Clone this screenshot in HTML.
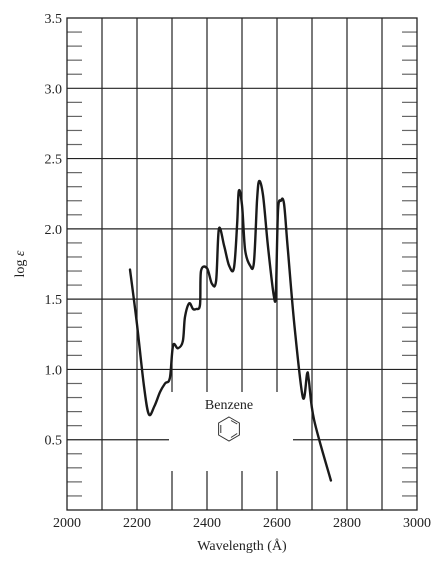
<!DOCTYPE html>
<html><head><meta charset="utf-8"><style>
body{margin:0;background:#fff;}
svg text{font-family:"Liberation Serif",serif;fill:#222;}
</style></head><body>
<svg width="446" height="567" viewBox="0 0 446 567" xmlns="http://www.w3.org/2000/svg">
<g id="grid"></g>
<g id="ticks"></g>
<rect x="67" y="18" width="350" height="492" fill="none" stroke="#222" stroke-width="1.3"/>
<path id="curve" fill="none" stroke="#1a1a1a" stroke-width="2.4" stroke-linejoin="round" stroke-linecap="round"/>
<text x="229" y="409" font-size="14" text-anchor="middle">Benzene</text>
<g fill="none" stroke="#333" stroke-width="1">
<polygon points="229,417 239.4,423 239.4,435 229,441 218.6,435 218.6,423"/>
<polyline points="231,420.5 237.2,424 " />
<polyline points="237.2,433.5 231,437.5"/>
<polyline points="220.8,425 220.8,433"/>
</g>
<text x="242" y="550" font-size="14" text-anchor="middle">Wavelength (Å)</text>
<text transform="translate(24,264) rotate(-90)" font-size="14" text-anchor="middle">log <tspan font-style="italic">ε</tspan></text>
</svg>
<script>
const xTicks=[2000,2200,2400,2600,2800,3000];
const yTicks=[0.5,1.0,1.5,2.0,2.5,3.0,3.5];
const wavelengths=[2180,2200,2220,2234,2250,2266,2280,2294,2303,2317,2331,2337,2349,2360,2369,2380,2383,2400,2414,2426,2434,2449,2463,2477,2486,2491,2500,2509,2523,2534,2543,2549,2560,2574,2591,2597,2603,2611,2620,2631,2651,2674,2686,2691,2706,2754];
const logEps=[1.71,1.32,0.88,0.68,0.74,0.84,0.9,0.94,1.17,1.15,1.2,1.37,1.47,1.43,1.43,1.46,1.7,1.72,1.61,1.63,2.0,1.88,1.74,1.72,2.03,2.27,2.17,1.85,1.74,1.76,2.2,2.34,2.24,1.88,1.52,1.56,2.13,2.2,2.18,1.85,1.28,0.8,0.97,0.92,0.64,0.21];
const X=l=>67+(l-2000)*0.35, Y=v=>510-v*140.57;
const NS="http://www.w3.org/2000/svg";
const grid=document.getElementById('grid'), tk=document.getElementById('ticks');
function ln(x1,y1,x2,y2,w,c,name){const e=document.createElementNS(NS,'line');e.setAttribute('x1',x1);e.setAttribute('y1',y1);e.setAttribute('x2',x2);e.setAttribute('y2',y2);e.setAttribute('stroke',c);e.setAttribute('stroke-width',w);


grid.appendChild(e);}
// vertical gridlines
for(let l=2100;l<3000;l+=100){const x=X(l);
 if(l>=2300&&l<=2600){ln(x,18,x,392,1.2,'#222','v-gridline');ln(x,471,x,510,1.2,'#222','v-gridline');}
 else ln(x,18,x,510,1.2,'#222','v-gridline');}
// horizontal gridlines
for(let v=0.5;v<3.5;v+=0.5){const y=Y(v);
 if(Math.abs(v-0.5)<1e-6){ln(67,y,169,y,1.2,'#222','h-gridline');ln(293,y,417,y,1.2,'#222','h-gridline');}
 else ln(67,y,417,y,1.2,'#222','h-gridline');}
// minor ticks
for(let i=1;i<35;i++){if(i%5===0)continue;const y=Y(i/10);ln(67,y,82,y,1.2,'#666','minor-tick-left');ln(402,y,417,y,1.2,'#666','minor-tick-right');}
xTicks.forEach(l=>{const t=document.createElementNS(NS,'text');t.setAttribute('x',X(l));t.setAttribute('y',527);t.setAttribute('font-size','14');t.setAttribute('text-anchor','middle');t.textContent=l;


tk.appendChild(t);});
yTicks.forEach(v=>{const t=document.createElementNS(NS,'text');t.setAttribute('x',62);t.setAttribute('y',Y(v)+5);t.setAttribute('font-size','14');t.setAttribute('text-anchor','end');t.textContent=v.toFixed(1);


tk.appendChild(t);});
// smooth curve (Catmull-Rom)
const P=wavelengths.map((l,i)=>[X(l),Y(logEps[i])]);
let d='M'+P[0][0]+','+P[0][1];
for(let i=0;i<P.length-1;i++){const p0=P[Math.max(0,i-1)],p1=P[i],p2=P[i+1],p3=P[Math.min(P.length-1,i+2)];
 const c1=[p1[0]+(p2[0]-p0[0])/6,p1[1]+(p2[1]-p0[1])/6],c2=[p2[0]-(p3[0]-p1[0])/6,p2[1]-(p3[1]-p1[1])/6];
 d+=` C${c1[0].toFixed(1)},${c1[1].toFixed(1)} ${c2[0].toFixed(1)},${c2[1].toFixed(1)} ${p2[0].toFixed(1)},${p2[1].toFixed(1)}`;}
document.getElementById('curve').setAttribute('d',d);
</script>
</body></html>
